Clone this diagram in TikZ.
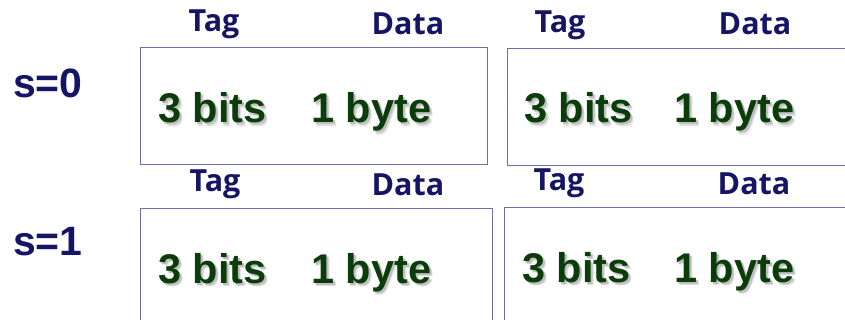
\documentclass[tikz,border=0pt]{standalone}
\usepackage{fontspec}
\setmainfont{Liberation Sans}
\newfontfamily\hdrfont{Open Sans}
\definecolor{navy}{HTML}{151565}
\definecolor{leaf}{HTML}{0B3D0B}
\definecolor{frame}{HTML}{6E6EA8}
% text with a soft drop shadow, set as one box
\newcommand{\shadowed}[1]{%
  \rlap{\hspace{3.2pt}\raisebox{-3.2pt}{\textcolor{black!12}{#1}}}%
  \rlap{\hspace{2pt}\raisebox{-2pt}{\textcolor{black!25}{#1}}}%
  \textcolor{leaf}{#1}}
\begin{document}
\begin{tikzpicture}[x=1pt,y=-1pt,
  cellbox/.style={draw=frame,line width=1pt},
  setlabel/.style={inner sep=0pt,anchor=base west,text=navy,font=\fontsize{41}{41}\selectfont\bfseries},
  fieldname/.style={inner sep=0pt,anchor=base,text=navy,font=\hdrfont\fontsize{30.5}{30.5}\selectfont\bfseries},
  sizetext/.style={inner sep=0pt,anchor=base west,font=\fontsize{41.5}{41.5}\selectfont\bfseries},
]
\useasboundingbox (0,0) rectangle (845,320);
\clip (0,0) rectangle (845,320);

% cache lines
\draw[cellbox] (140,48) rectangle (487,165);
\draw[cellbox] (507,49) rectangle (860,166);
\draw[cellbox] (140,209) rectangle (492,340);
\draw[cellbox] (504,208) rectangle (860,340);

% set indices
\node[setlabel] (s0) at (13,98) {s=0};
\node[setlabel] (s1) at (13,255) {s=1};

% field headings
\node[fieldname] (tag00) at (214,32) {Tag};
\node[fieldname] (data00) at (408,35) {Data};
\node[fieldname] (tag01) at (560,33) {Tag};
\node[fieldname] (data01) at (755,35) {Data};
\node[fieldname] (tag10) at (215,192) {Tag};
\node[fieldname] (data10) at (408,196) {Data};
\node[fieldname] (tag11) at (559,191) {Tag};
\node[fieldname] (data11) at (754,195) {Data};

% field sizes
\node[sizetext] (bits00) at (158,123) {\shadowed{3 bits}};
\node[sizetext] (byte00) at (311,123) {\shadowed{1 byte}};
\node[sizetext] (bits01) at (524,123) {\shadowed{3 bits}};
\node[sizetext] (byte01) at (674,123) {\shadowed{1 byte}};
\node[sizetext] (bits10) at (158,283) {\shadowed{3 bits}};
\node[sizetext] (byte10) at (311,283) {\shadowed{1 byte}};
\node[sizetext] (bits11) at (522,282) {\shadowed{3 bits}};
\node[sizetext] (byte11) at (674,282) {\shadowed{1 byte}};
\end{tikzpicture}
\end{document}
